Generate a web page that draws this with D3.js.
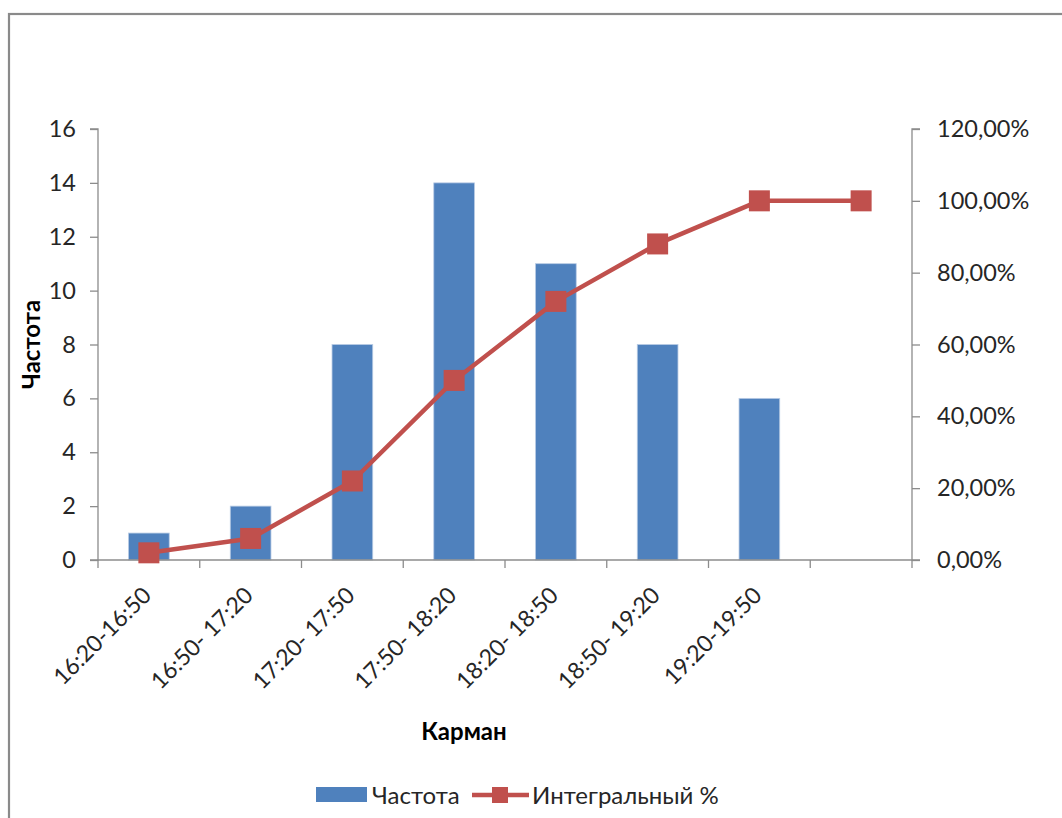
<!DOCTYPE html>
<html><head><meta charset="utf-8">
<script src="https://cdn.jsdelivr.net/npm/d3@7"></script>
<style>
html,body{margin:0;padding:0;background:#fff;}
svg{display:block;font-family:Lato,"Open Sans",sans-serif;}
</style></head>
<body>
<svg id="c" width="1062" height="818"></svg>
<script>
const categories = ["16:20-16:50","16:50- 17:20","17:20- 17:50","17:50- 18:20","18:20- 18:50","18:50- 19:20","19:20-19:50",""];
const frequency = [1,2,8,14,11,8,6,null];
const cumulativePct = [2,6,22,50,72,88,100,100];
const leftTicks = [0,2,4,6,8,10,12,14,16];
const rightTicks = [0,20,40,60,80,100,120];
const seriesNames = ["Частота","Интегральный %"];

const barColor = "#4F81BD", lineColor = "#C0504D", axisColor = "#8c8c8c", textColor = "#262626";
const svg = d3.select("#c");
const L = 98, R = 912, T = 129, B = 560;

// chart border
svg.append("rect").attr("x",9).attr("y",14).attr("width",1100).attr("height",900)
  .attr("fill","none").attr("stroke","#8a8a8a").attr("stroke-width",2.2);

const idx = categories.map((d,i)=>i);
const x = d3.scaleBand().domain(idx).range([L,R]).paddingInner(0.6).paddingOuter(0.3);
const step = x.step();
const y = d3.scaleLinear().domain([0,16]).range([B,T]);
const y2 = d3.scaleLinear().domain([0,120]).range([B,T]);

// bars
svg.append("g").selectAll("rect").data(idx.filter(i=>frequency[i]!=null)).join("rect")
  .attr("x",i=>x(i)).attr("y",i=>y(frequency[i]))
  .attr("width",x.bandwidth()).attr("height",i=>B-y(frequency[i]))
  .attr("fill",barColor).attr("stroke","#b8cbe4").attr("stroke-width",0.8);

// left axis
const gl = svg.append("g").attr("transform",`translate(${L},0)`)
  .call(d3.axisLeft(y).tickValues(leftTicks).tickSize(8).tickPadding(14).tickFormat(d3.format("d")));
// right axis
const gr = svg.append("g").attr("transform",`translate(${R},0)`)
  .call(d3.axisRight(y2).tickValues(rightTicks).tickSize(8).tickPadding(17).tickFormat(d=>d.toFixed(2).replace(".",",")+"%"));
[gl,gr].forEach(g=>{
  g.select(".domain").attr("stroke",axisColor).attr("stroke-width",1.3);
  g.selectAll(".tick line").attr("stroke",axisColor).attr("stroke-width",1.3);
  g.selectAll("text").attr("fill",textColor).style("font-size","23.5px").style("font-family","Lato,sans-serif");
});
gl.select(".domain").attr("d",`M-8,${T}H0V${B}H-8`);
gr.select(".domain").attr("d",`M8,${T}H0V${B}H8`);

// x axis
const gx = svg.append("g");
gx.append("line").attr("x1",L).attr("x2",R).attr("y1",B).attr("y2",B).attr("stroke",axisColor).attr("stroke-width",1.3);
const bounds = d3.range(categories.length+1).map(k=>L+k*step);
gx.selectAll("line.tk").data(bounds).join("line").attr("class","tk")
  .attr("x1",d=>d).attr("x2",d=>d).attr("y1",B).attr("y2",B+8)
  .attr("stroke",axisColor).attr("stroke-width",1.3);
gx.selectAll("text").data(idx).join("text")
  .attr("transform",i=>`translate(${x(i)+x.bandwidth()/2-2},${B+31}) rotate(-45)`)
  .attr("text-anchor","end").attr("dy","0.35em")
  .attr("fill",textColor).style("font-size","23px")
  .text(i=>categories[i]);

// line
const cx = i=>x(i)+x.bandwidth()/2;
svg.append("path").datum(idx)
  .attr("d",d3.line().x(cx).y(i=>y2(cumulativePct[i])))
  .attr("fill","none").attr("stroke",lineColor).attr("stroke-width",4.5).attr("stroke-linejoin","round");
const ms = 21;
svg.append("g").selectAll("rect").data(idx).join("rect")
  .attr("x",i=>cx(i)-ms/2).attr("y",i=>y2(cumulativePct[i])-ms/2)
  .attr("width",ms).attr("height",ms).attr("fill",lineColor);

// axis titles
svg.append("text").attr("transform",`translate(40,${(T+B)/2}) rotate(-90)`)
  .attr("text-anchor","middle").attr("fill","#000").style("font-size","24px").style("font-weight","bold")
  .text("Частота");
svg.append("text").attr("x",464).attr("y",740)
  .attr("text-anchor","middle").attr("fill","#000").style("font-size","24px").style("font-weight","bold")
  .text("Карман");

// legend
const lg = svg.append("g");
lg.append("rect").attr("x",316).attr("y",787).attr("width",51).attr("height",15).attr("fill",barColor);
lg.append("text").attr("x",372).attr("y",804).attr("fill",textColor).style("font-size","24px").text(seriesNames[0]);
lg.append("line").attr("x1",472).attr("x2",529).attr("y1",795).attr("y2",795).attr("stroke",lineColor).attr("stroke-width",4.5);
lg.append("rect").attr("x",492).attr("y",787).attr("width",16).attr("height",16).attr("fill",lineColor);
lg.append("text").attr("x",532).attr("y",804).attr("fill",textColor).style("font-size","24px").text(seriesNames[1]);
</script>
</body></html>
